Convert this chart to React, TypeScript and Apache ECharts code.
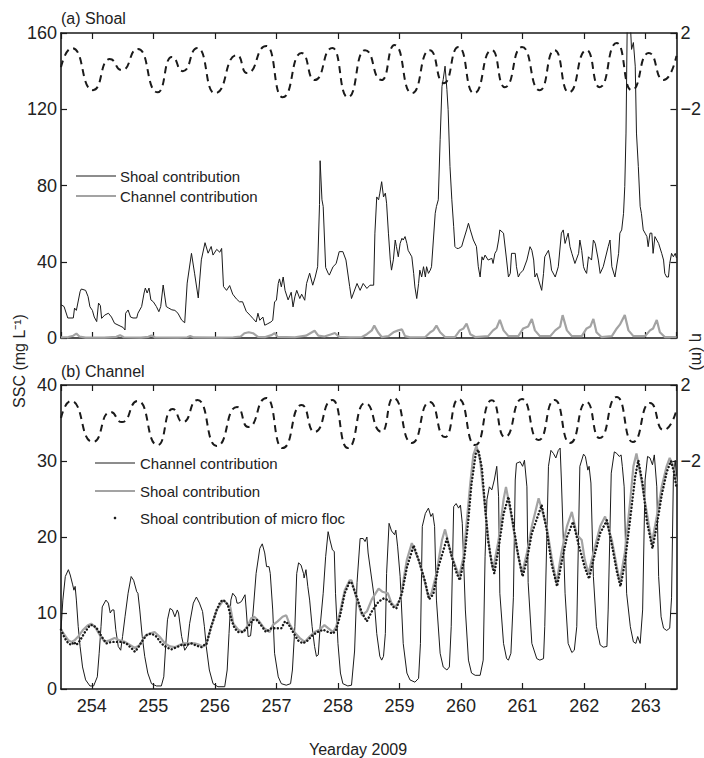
import React, { useEffect, useRef } from 'react';
import * as echarts from 'echarts';

// ---------- data (yearday, value) ----------
const topShoal: number[][] = [
  [253.5, 17], [253.51, 17.3], [253.55, 16.5], [253.61, 10.5], [253.7, 10.5], [253.72, 15.7], [253.75, 14.5],
  [253.81, 24.3], [253.83, 25.7], [253.9, 25], [253.94, 21.7], [253.97, 16.4], [254.01, 14.5], [254.04, 11],
  [254.08, 8.6], [254.11, 18.3], [254.14, 17], [254.16, 10.3], [254.21, 12], [254.27, 13], [254.32, 11],
  [254.37, 7.7], [254.46, 6.3], [254.51, 5.5], [254.54, 4.2], [254.55, 13], [254.59, 14.7], [254.63, 11],
  [254.67, 10.5], [254.73, 10.5], [254.75, 13], [254.81, 16.5], [254.85, 23.6], [254.87, 26.2], [254.9, 23.6],
  [254.93, 26.2], [254.96, 20], [255.0, 19], [255.05, 16.5], [255.09, 13.8], [255.12, 16.5], [255.16, 27.8],
  [255.19, 21], [255.21, 16.5], [255.25, 15.7], [255.3, 14.8], [255.35, 14.5], [255.4, 13], [255.46, 9.4],
  [255.51, 8.0], [255.55, 28.8], [255.62, 44.4], [255.67, 34], [255.73, 21], [255.78, 41], [255.84, 50],
  [255.89, 44.5], [255.94, 48], [255.97, 43.5], [256.03, 46.5], [256.08, 45], [256.11, 47], [256.14, 27],
  [256.19, 25], [256.24, 27.5], [256.29, 23], [256.35, 20.5], [256.4, 19], [256.45, 19], [256.51, 14],
  [256.57, 12], [256.62, 10.2], [256.67, 8.4], [256.7, 13], [256.73, 9.3], [256.78, 11], [256.81, 6.7],
  [256.86, 7.5], [256.91, 8.4], [256.94, 9.3], [256.97, 19], [257.0, 19.8], [257.03, 28.6], [257.05, 31],
  [257.08, 26.8], [257.11, 32], [257.14, 25], [257.19, 20], [257.24, 24], [257.27, 16.3], [257.3, 21.6],
  [257.33, 25], [257.38, 20.7], [257.41, 23], [257.46, 19.8], [257.49, 28.6], [257.54, 34], [257.59, 27.7],
  [257.63, 32], [257.67, 37.4], [257.7, 70], [257.71, 93], [257.74, 72.5], [257.76, 69], [257.8, 37],
  [257.84, 34], [257.86, 33], [257.92, 37.4], [257.97, 39], [258.02, 45.3], [258.08, 45.3], [258.13, 40.9],
  [258.19, 27], [258.22, 20.7], [258.31, 28.6], [258.36, 25], [258.41, 28.6], [258.47, 26], [258.52, 27.7],
  [258.58, 27.7], [258.6, 55], [258.63, 74], [258.66, 72.5], [258.68, 76], [258.71, 82], [258.74, 74],
  [258.77, 76], [258.79, 70.7], [258.82, 55], [258.85, 41], [258.87, 35.6], [258.9, 41], [258.93, 51.4],
  [258.95, 48], [258.98, 42.6], [259.01, 49.6], [259.04, 52.3], [259.06, 51.4], [259.09, 53.2], [259.12, 49.6],
  [259.14, 46], [259.2, 42.6], [259.23, 33.9], [259.25, 26.8], [259.28, 20.7], [259.31, 28.6], [259.33, 35.6],
  [259.36, 32], [259.39, 37.4], [259.42, 32], [259.44, 37.4], [259.47, 33.9], [259.5, 35.6], [259.52, 37.4],
  [259.55, 51.4], [259.58, 65.4], [259.6, 69], [259.63, 72.5], [259.66, 104], [259.69, 132], [259.71, 135.6],
  [259.74, 142.6], [259.77, 130.4], [259.79, 119.8], [259.82, 90], [259.85, 72.5], [259.88, 58.4], [259.9, 48],
  [259.93, 47], [259.96, 47], [260.01, 48], [260.04, 51.4], [260.09, 56.7], [260.12, 60.2], [260.15, 56.7],
  [260.2, 51.4], [260.25, 48], [260.28, 37.4], [260.31, 32], [260.34, 42.6], [260.36, 40.9], [260.39, 43.5],
  [260.44, 40.9], [260.5, 41.8], [260.52, 39.1], [260.55, 44.4], [260.58, 46], [260.61, 51.4], [260.63, 56.7],
  [260.69, 55], [260.74, 40.9], [260.77, 32], [260.8, 33.9], [260.82, 44.4], [260.88, 44.4], [260.9, 37.4],
  [260.93, 32], [260.96, 33.9], [261.01, 35.6], [261.07, 40.9], [261.12, 47.9], [261.15, 46], [261.18, 40.9],
  [261.2, 32], [261.23, 33.9], [261.26, 30.4], [261.31, 25], [261.34, 33.9], [261.36, 42.6], [261.42, 46],
  [261.45, 40.9], [261.47, 35.6], [261.53, 32], [261.58, 37.4], [261.63, 55], [261.66, 56.7], [261.69, 49.6],
  [261.74, 55], [261.77, 47.9], [261.8, 44.4], [261.85, 39.1], [261.91, 44.4], [261.93, 51.4], [261.96, 46],
  [261.99, 37.4], [262.01, 35.6], [262.04, 33.9], [262.07, 42.6], [262.12, 40.9], [262.15, 51.4], [262.18, 49.6],
  [262.23, 40.9], [262.26, 33.9], [262.31, 37.4], [262.39, 47.9], [262.42, 51.4], [262.45, 37.4], [262.5, 32],
  [262.56, 44.4], [262.58, 55], [262.61, 56.7], [262.64, 65.4], [262.66, 79.5], [262.68, 107.5], [262.7, 165],
  [262.72, 166], [262.75, 165], [262.77, 151.4], [262.8, 155], [262.83, 142.6], [262.85, 107.5], [262.88, 90],
  [262.91, 69], [262.93, 65.4], [262.96, 56.7], [262.99, 55], [263.02, 53.2], [263.04, 47.9], [263.07, 55],
  [263.1, 55], [263.12, 44.4], [263.15, 53.2], [263.18, 51.4], [263.21, 49.6], [263.26, 44.4], [263.29, 40.9],
  [263.31, 33.9], [263.34, 32], [263.37, 32], [263.39, 39.1], [263.42, 44.4], [263.45, 42.6], [263.48, 44.4],
  [263.5, 42],
];

const topChannel: number[][] = [
  [253.5, 0.3], [253.62, 0.5], [253.7, 1.2], [253.75, 2.3], [253.8, 0.8], [253.9, 0.2], [254.2, 0.2],
  [254.4, 0.6], [254.46, 1.5], [254.52, 0.4], [254.8, 0.2], [254.92, 0.6], [254.97, 1.3], [255.03, 0.3],
  [255.4, 0.2], [255.55, 0.4], [255.6, 1.0], [255.66, 0.3], [256.1, 0.2], [256.3, 0.4], [256.42, 0.8],
  [256.48, 2.5], [256.55, 3.0], [256.62, 2.5], [256.7, 0.6], [256.82, 0.5], [256.92, 1.5], [256.97, 2.6],
  [257.02, 0.6], [257.3, 0.4], [257.48, 1.2], [257.55, 2.5], [257.62, 3.8], [257.68, 1.2], [257.78, 0.8],
  [257.88, 1.8], [257.95, 2.6], [258.02, 0.6], [258.2, 0.3], [258.39, 0.5], [258.47, 2], [258.55, 4],
  [258.59, 6.5], [258.65, 3], [258.71, 0.5], [258.82, 1], [258.9, 3], [258.98, 4], [259.04, 4.5],
  [259.09, 1], [259.17, 0.3], [259.42, 0.5], [259.5, 3], [259.55, 4], [259.6, 6.5], [259.66, 3],
  [259.74, 0.5], [259.9, 0.5], [259.98, 4], [260.04, 5], [260.09, 7.5], [260.15, 2], [260.23, 0.5],
  [260.44, 1], [260.52, 4], [260.58, 5.5], [260.63, 9.5], [260.69, 4], [260.77, 1], [260.93, 1],
  [261.01, 5], [261.09, 6], [261.15, 10], [261.2, 4], [261.28, 1], [261.45, 1], [261.53, 4],
  [261.61, 6], [261.65, 12], [261.72, 4], [261.8, 1], [261.96, 1], [262.04, 5], [262.1, 6],
  [262.15, 10], [262.2, 3], [262.28, 0.5], [262.45, 1], [262.53, 5], [262.58, 7], [262.66, 12],
  [262.72, 4], [262.8, 1], [262.99, 1], [263.07, 4], [263.12, 5], [263.18, 9.5], [263.23, 3],
  [263.31, 0.5], [263.5, 0.5],
];

const topTide: number[][] = [
  [253.5, 0.21], [253.68, 1.21], [254.02, -1.0], [254.29, 0.63], [254.49, 0.05], [254.75, 1.16],
  [255.07, -1.11], [255.3, 0.74], [255.48, 0.0], [255.72, 1.21], [256.0, -1.16], [256.36, 0.84],
  [256.52, -0.1], [256.84, 1.32], [257.1, -1.37], [257.41, 0.95], [257.62, -0.47], [257.91, 1.21],
  [258.16, -1.37], [258.44, 1.1], [258.71, -0.47], [258.92, 1.37], [259.2, -1.16], [259.49, 1.1],
  [259.72, -0.63], [259.96, 1.26], [260.21, -1.16], [260.5, 1.1], [260.71, -0.84], [260.99, 1.26],
  [261.28, -1.0], [261.52, 1.1], [261.75, -1.11], [262.04, 1.1], [262.25, -0.84], [262.53, 1.47],
  [262.77, -1.0], [263.05, 0.95], [263.29, -0.47], [263.5, 0.8],
];

const botChannel: number[][] = [
  [253.5, 7.8], [253.53, 11.7], [253.57, 14.8], [253.62, 15.7], [253.65, 15], [253.69, 13.7], [253.71, 13],
  [253.73, 13.5], [253.75, 11.7], [253.78, 8.2], [253.81, 5.6], [253.85, 2.9], [253.9, 1.2], [253.97, 0.4],
  [254.03, 0.4], [254.09, 1.6], [254.12, 4.7], [254.15, 8.2], [254.17, 10.8], [254.23, 11.7], [254.27, 11.3],
  [254.3, 10], [254.33, 10.4], [254.36, 10.4], [254.39, 7.8], [254.43, 5.6], [254.47, 5.1], [254.5, 6.9],
  [254.54, 9.5], [254.59, 12.6], [254.64, 14.8], [254.68, 14.3], [254.73, 12.8], [254.75, 12.6], [254.78, 10.4],
  [254.82, 6.9], [254.86, 4.3], [254.91, 2.1], [254.97, 0.7], [255.05, 0.4], [255.13, 0.4], [255.17, 1.6],
  [255.2, 5.6], [255.23, 9.1], [255.27, 10.6], [255.31, 10.4], [255.35, 9.5], [255.39, 10.4], [255.41, 10],
  [255.46, 6.9], [255.51, 5.1], [255.55, 5.6], [255.59, 8.6], [255.65, 11.3], [255.7, 12.1], [255.75, 11.3],
  [255.8, 10.2], [255.83, 8.2], [255.86, 5.6], [255.91, 2.5], [255.97, 0.7], [256.05, 0.3], [256.16, 0.3],
  [256.2, 2.5], [256.23, 7.3], [256.26, 11.7], [256.29, 12.6], [256.34, 12.1], [256.36, 11.3], [256.39, 11.3],
  [256.43, 11.5], [256.49, 12.4], [256.51, 10.4], [256.54, 6.9], [256.58, 7.0], [256.62, 10], [256.67, 15.2],
  [256.73, 18.5], [256.77, 19.1], [256.81, 17.9], [256.84, 16.1], [256.88, 16.1], [256.9, 15.2], [256.94, 10.4],
  [256.97, 4.7], [257.03, 1.6], [257.08, 0.7], [257.16, 0.5], [257.23, 0.7], [257.26, 2.5], [257.3, 8.2],
  [257.33, 15.2], [257.36, 16.6], [257.4, 16.3], [257.44, 15.2], [257.45, 14.6], [257.48, 15.7], [257.51, 13.5],
  [257.54, 11.7], [257.58, 8.2], [257.62, 5.6], [257.65, 4.3], [257.68, 4.5], [257.71, 8.2], [257.76, 12.6],
  [257.8, 17.4], [257.84, 20.7], [257.87, 19.6], [257.91, 18.3], [257.94, 18.1], [257.96, 12.6], [258.0, 6],
  [258.04, 2.1], [258.08, 0.7], [258.16, 0.4], [258.22, 0.5], [258.27, 5], [258.31, 14], [258.36, 19.8],
  [258.41, 19.8], [258.44, 19.4], [258.47, 20], [258.49, 17.9], [258.58, 12.6], [258.63, 7.3], [258.68, 4.3],
  [258.71, 3.8], [258.74, 4.3], [258.77, 7.3], [258.79, 15.2], [258.83, 21.8], [258.87, 20.8], [258.92, 20.3],
  [258.94, 20.9], [258.97, 18.7], [259.01, 14.8], [259.06, 6], [259.12, 2.1], [259.17, 1.2], [259.25, 0.9],
  [259.31, 1.4], [259.34, 6], [259.37, 21.4], [259.42, 23.1], [259.47, 23.8], [259.51, 22.7], [259.54, 23.1],
  [259.57, 21.4], [259.6, 11.7], [259.66, 4.7], [259.71, 2.9], [259.77, 2.5], [259.81, 2.9], [259.84, 8.2],
  [259.88, 24], [259.92, 24.4], [259.96, 23.8], [259.99, 24.2], [260.02, 21.8], [260.07, 10.4], [260.12, 3.8],
  [260.17, 2.1], [260.23, 1.8], [260.31, 1.8], [260.36, 3.8], [260.39, 17.4], [260.42, 24.9], [260.46, 26.6],
  [260.5, 26.2], [260.54, 27.5], [260.58, 29.3], [260.61, 25.3], [260.63, 12.6], [260.69, 6], [260.74, 4],
  [260.77, 3.8], [260.81, 4.7], [260.85, 12], [260.88, 27.5], [260.9, 29.7], [260.96, 29.9], [261.0, 29.3],
  [261.03, 30.1], [261.07, 26.6], [261.09, 14], [261.15, 6], [261.23, 4], [261.28, 3.8], [261.34, 4],
  [261.36, 8.2], [261.42, 29.3], [261.46, 31.4], [261.5, 31], [261.54, 30.4], [261.58, 31.4], [261.61, 31.7],
  [261.63, 27.5], [261.69, 12.6], [261.74, 6], [261.8, 4.8], [261.84, 5.1], [261.88, 8.2], [261.93, 29.3],
  [261.99, 30.9], [262.02, 30.6], [262.06, 28.8], [262.08, 29.3], [262.11, 27.1], [262.15, 14.8], [262.2, 8.2],
  [262.26, 5.8], [262.31, 5.5], [262.37, 5.6], [262.39, 10.4], [262.44, 28.4], [262.49, 31.2], [262.53, 31],
  [262.57, 30.6], [262.6, 30.8], [262.62, 29.3], [262.65, 26.6], [262.69, 12.6], [262.75, 8.2], [262.8, 6.2],
  [262.84, 6], [262.87, 6.9], [262.91, 6], [262.95, 10.4], [262.99, 27.5], [263.03, 30.6], [263.07, 30.4],
  [263.11, 29.5], [263.14, 30.8], [263.18, 26.6], [263.21, 14.8], [263.25, 9.5], [263.29, 8], [263.34, 7.7],
  [263.39, 8], [263.42, 12], [263.45, 28], [263.48, 30.1], [263.5, 28],
];

const botShoal: number[][] = [
  [253.5, 7.8], [253.56, 7.1], [253.62, 6.4], [253.67, 6.2], [253.72, 6.4], [253.78, 6.9], [253.86, 7.8],
  [253.94, 8.4], [253.99, 8.6], [254.05, 8.2], [254.13, 7.1], [254.21, 6.2], [254.29, 6.4], [254.37, 6.7],
  [254.45, 6.4], [254.54, 6.2], [254.62, 5.8], [254.7, 5.4], [254.78, 5.8], [254.86, 6.9], [254.94, 7.3],
  [255.02, 7.5], [255.1, 6.9], [255.19, 6], [255.27, 5.6], [255.35, 5.5], [255.43, 5.8], [255.51, 6],
  [255.59, 6], [255.67, 6], [255.75, 5.8], [255.81, 5.6], [255.86, 5.9], [255.94, 8.2], [256.03, 10.4],
  [256.14, 11.7], [256.25, 10.8], [256.3, 8.6], [256.38, 7.8], [256.46, 7.5], [256.54, 8.4], [256.59, 9.3],
  [256.64, 9.5], [256.72, 8.9], [256.8, 8], [256.89, 7.5], [256.94, 8.4], [257.02, 8.9], [257.1, 9.5],
  [257.16, 9.7], [257.21, 8.6], [257.29, 7.5], [257.38, 6.7], [257.46, 6.2], [257.54, 6.9], [257.62, 7.5],
  [257.7, 7.8], [257.78, 8.4], [257.84, 8], [257.92, 7.5], [257.97, 8.2], [258.03, 10], [258.11, 13],
  [258.19, 14.3], [258.22, 14.3], [258.31, 11.7], [258.39, 9.7], [258.47, 10.2], [258.55, 11.8],
  [258.66, 13.2], [258.72, 12.8], [258.81, 12.6], [258.87, 11.3], [258.93, 10.8], [259.01, 11.7], [259.12, 17],
  [259.2, 19.2], [259.31, 17], [259.39, 14.8], [259.47, 12.1], [259.52, 12.6], [259.6, 15.2], [259.69, 19.6],
  [259.74, 21], [259.85, 17.4], [259.93, 15.7], [259.97, 14.8], [260.04, 17.4], [260.09, 21.8], [260.15, 27.1],
  [260.2, 30.8], [260.25, 32], [260.31, 30.1], [260.36, 26.2], [260.42, 21.4], [260.47, 17.9], [260.52, 15.7],
  [260.61, 19.6], [260.69, 24.9], [260.73, 26.6], [260.82, 22.7], [260.9, 18.7], [260.99, 15.2], [261.07, 17.9],
  [261.15, 21.4], [261.26, 25.1], [261.39, 21.4], [261.47, 17.4], [261.55, 13.9], [261.63, 17.9], [261.72, 21.4],
  [261.8, 23.3], [261.88, 20.3], [261.96, 19.6], [262.01, 17], [262.07, 15.2], [262.15, 17.9], [262.26, 21.4],
  [262.34, 22.7], [262.45, 19.6], [262.53, 16.1], [262.58, 14.1], [262.66, 17.9], [262.75, 24.9], [262.8, 29.3],
  [262.85, 31], [262.93, 27.5], [263.02, 23.1], [263.1, 19.2], [263.18, 22.7], [263.26, 26.6], [263.34, 29.3],
  [263.39, 30.4], [263.45, 29.3], [263.5, 27],
];

const botMicro: number[][] = [
  [253.5, 7.8], [253.56, 6.7], [253.62, 6], [253.67, 5.8], [253.71, 6.2], [253.75, 5.8], [253.81, 6.4],
  [253.89, 7.5], [253.97, 8.4], [254.02, 8.4], [254.08, 8], [254.16, 6.9], [254.24, 6], [254.32, 6.2],
  [254.4, 6.2], [254.48, 6.2], [254.56, 6], [254.64, 5.4], [254.7, 4.9], [254.75, 5.4], [254.81, 6.2],
  [254.89, 7.1], [254.97, 7.3], [255.05, 6.9], [255.13, 6], [255.21, 5.5], [255.29, 5.2], [255.38, 5.5],
  [255.46, 5.8], [255.54, 5.8], [255.62, 6], [255.7, 5.7], [255.78, 5.5], [255.83, 5.8], [255.86, 5.8],
  [255.94, 8.2], [256.03, 10.4], [256.09, 11.5], [256.14, 11.7], [256.21, 11.1], [256.27, 9.1], [256.32, 8],
  [256.38, 7.5], [256.46, 7.5], [256.54, 8.2], [256.62, 9.1], [256.68, 9.1], [256.75, 8.4], [256.83, 7.5],
  [256.92, 8], [257.0, 8], [257.08, 8], [257.14, 8.9], [257.19, 8.6], [257.27, 7.5], [257.35, 6.4],
  [257.43, 6], [257.51, 6.4], [257.59, 7.1], [257.67, 7.5], [257.76, 7.8], [257.84, 7.5], [257.92, 7.3],
  [257.97, 7.8], [258.03, 9.5], [258.11, 12.6], [258.19, 14.1], [258.22, 14], [258.31, 12], [258.39, 10],
  [258.47, 8.9], [258.55, 10.2], [258.66, 11.5], [258.74, 11.9], [258.82, 11.7], [258.9, 10.8], [258.95, 10.6],
  [259.04, 12.6], [259.12, 16], [259.23, 18.9], [259.33, 16.5], [259.42, 14], [259.48, 11.8], [259.55, 12.5],
  [259.63, 16], [259.77, 19.8], [259.85, 17.4], [259.93, 15.2], [259.98, 14.3], [260.05, 17], [260.11, 21.5],
  [260.17, 27], [260.24, 31], [260.28, 31.5], [260.34, 29], [260.39, 24], [260.44, 19.5], [260.5, 16.5],
  [260.54, 15.2], [260.61, 18.5], [260.69, 23], [260.77, 25.3], [260.85, 21.5], [260.93, 17.5], [261.0, 14.8],
  [261.07, 17], [261.15, 20.5], [261.31, 24.2], [261.39, 21], [261.47, 16.5], [261.56, 13.5], [261.63, 16.5],
  [261.72, 20], [261.82, 22], [261.91, 19], [262.01, 16], [262.08, 14.5], [262.15, 17], [262.26, 20.5],
  [262.37, 22.2], [262.45, 19], [262.53, 15.5], [262.59, 13.5], [262.66, 16.5], [262.75, 22.5], [262.83, 28],
  [262.88, 30.1], [262.95, 27], [263.02, 22], [263.11, 18.5], [263.18, 21.5], [263.26, 25.5], [263.34, 28.5],
  [263.41, 30], [263.46, 28.5], [263.5, 26.5],
];

const botTide: number[][] = [
  [253.5, 0.26], [253.66, 1.16], [254.02, -1.0], [254.3, 0.58], [254.49, 0.05], [254.75, 1.16],
  [255.07, -1.16], [255.31, 0.74], [255.48, 0.05], [255.72, 1.21], [256.03, -1.21], [256.36, 0.84],
  [256.54, -0.21], [256.84, 1.32], [257.1, -1.32], [257.41, 0.95], [257.62, -0.47], [257.91, 1.21],
  [258.16, -1.32], [258.44, 1.05], [258.71, -0.47], [258.9, 1.32], [259.2, -1.05], [259.49, 1.1],
  [259.74, -0.74], [259.96, 1.26], [260.23, -1.16], [260.5, 1.2], [260.71, -0.74], [260.99, 1.26],
  [261.26, -0.9], [261.52, 1.21], [261.77, -1.05], [262.04, 1.1], [262.25, -0.79], [262.53, 1.37],
  [262.79, -1.0], [263.07, 1.05], [263.29, -0.37], [263.5, 0.68],
];

const xRange = [253.5, 263.5];
const topSscRange = [0, 160, 40];
const botSscRange = [0, 40, 10];
const etaRange = [-14, 2, 2];
const etaLabels = [2, -2];

const FONT = '"Liberation Sans", Arial, Helvetica, sans-serif';
const INK = '#1a1a1a';
const GRAY = '#a3a3a3';

function xAxes(gridIndex: number, showLabels: boolean) {
  const common = {
    type: 'value',
    gridIndex,
    min: xRange[0],
    max: xRange[1],
    splitNumber: 10,
    minInterval: 1,
    maxInterval: 1,
    splitLine: { show: false },
    axisLine: { show: true, onZero: false, lineStyle: { color: INK, width: 1.6 } },
    axisTick: { show: true, inside: true, length: 6, lineStyle: { color: INK, width: 1.2 } },
  };
  return [
    {
      ...common,
      position: 'bottom',
      axisLabel: {
        show: showLabels, showMinLabel: false, showMaxLabel: false,
        fontFamily: FONT, fontSize: 18, color: '#222', margin: 8,
      },
    },
    { ...common, position: 'top', axisLabel: { show: false } },
  ];
}

function yAxes(gridIndex: number, r: number[]) {
  return [
    {
      type: 'value', gridIndex, position: 'left', min: r[0], max: r[1], interval: r[2],
      splitLine: { show: false },
      axisLine: { show: true, onZero: false, lineStyle: { color: INK, width: 1.6 } },
      axisTick: { show: true, inside: true, length: 6, lineStyle: { color: INK, width: 1.2 } },
      axisLabel: { fontFamily: FONT, fontSize: 18, color: '#222', margin: 4 },
    },
    {
      type: 'value', gridIndex, position: 'right', min: etaRange[0], max: etaRange[1], interval: etaRange[2],
      splitLine: { show: false },
      axisLine: { show: false },
      axisTick: { show: false },
      axisLabel: {
        fontFamily: FONT, fontSize: 18, color: '#222', margin: 4,
        formatter: (v: number) => (etaLabels.includes(v) ? (v < 0 ? '\u2212' + Math.abs(v) : String(v)) : ''),
      },
    },
    {
      type: 'value', gridIndex, position: 'right', min: r[0], max: r[1], interval: r[2],
      splitLine: { show: false },
      axisLine: { show: true, onZero: false, lineStyle: { color: INK, width: 1.6 } },
      axisTick: { show: true, inside: true, length: 6, lineStyle: { color: INK, width: 1.2 } },
      axisLabel: { show: false },
    },
  ];
}

function lineSeries(name: string, data: number[][], xi: number, yi: number, style: any, extra: any = {}) {
  return {
    name, type: 'line', data, xAxisIndex: xi, yAxisIndex: yi,
    showSymbol: false, symbol: 'none', silent: true, clip: true,
    lineStyle: style, ...extra,
  };
}

export default function App() {
  const ref = useRef<HTMLDivElement>(null);
  useEffect(() => {
    document.body.style.margin = '0';
    if (!ref.current) return;
    const chart = echarts.init(ref.current, undefined, { renderer: 'svg' });
    const tideStyle = { color: INK, width: 2, type: [7, 5] };
    const txt = (x: number, y: number, text: string, size = 15, extra: any = {}) => ({
      type: 'text', x, y, silent: true,
      style: { text, font: `${size}px ${FONT}`, fill: '#222', textVerticalAlign: 'middle', ...extra },
    });
    const seg = (x1: number, y1: number, x2: number, y2: number, stroke: string, lineWidth: number) => ({
      type: 'line', silent: true, shape: { x1, y1, x2, y2 }, style: { stroke, lineWidth },
    });
    chart.setOption({
      animation: false,
      backgroundColor: '#ffffff',
      grid: [
        { left: 61, top: 33, width: 616, height: 305 },
        { left: 61, top: 385, width: 616, height: 304 },
      ],
      xAxis: [...xAxes(0, false), ...xAxes(1, true)],
      yAxis: [...yAxes(0, topSscRange), ...yAxes(1, botSscRange)],
      series: [
        lineSeries('Tide (a)', topTide, 0, 1, tideStyle, { smooth: 0.6, smoothMonotone: 'x' }),
        lineSeries('Channel contribution (a)', topChannel, 0, 0, { color: GRAY, width: 2.2 }),
        lineSeries('Shoal contribution (a)', topShoal, 0, 0, { color: INK, width: 1 }),
        lineSeries('Tide (b)', botTide, 2, 4, tideStyle, { smooth: 0.6, smoothMonotone: 'x' }),
        lineSeries('Channel contribution (b)', botChannel, 2, 3, { color: INK, width: 1 }),
        lineSeries('Shoal contribution (b)', botShoal, 2, 3, { color: GRAY, width: 2.2 }),
        lineSeries('Shoal contribution of micro floc', botMicro, 2, 3,
          { color: INK, width: 2.4, type: [0.1, 3.4], cap: 'round' }),
      ],
      graphic: [
        txt(61, 18, '(a) Shoal', 16),
        txt(61, 371, '(b) Channel', 16),
        seg(76, 176, 116, 176, INK, 1),
        txt(120, 176, 'Shoal contribution'),
        seg(76, 196, 116, 196, GRAY, 2.2),
        txt(120, 196, 'Channel contribution'),
        seg(95, 463, 135, 463, INK, 1),
        txt(140, 463, 'Channel contribution'),
        seg(95, 491, 135, 491, GRAY, 2.2),
        txt(140, 491, 'Shoal contribution'),
        { type: 'circle', silent: true, shape: { cx: 115, cy: 518, r: 1.3 }, style: { fill: INK } },
        txt(140, 518, 'Shoal contribution of micro floc'),
        {
          type: 'text', x: 19, y: 361, rotation: Math.PI / 2, silent: true,
          style: { text: 'SSC (mg L\u207B\u00B9)', font: `16px ${FONT}`, fill: '#222', textAlign: 'center', textVerticalAlign: 'middle' },
        },
        {
          type: 'text', x: 697, y: 352, rotation: -Math.PI / 2, silent: true,
          style: { text: '\u03B7 (m)', font: `16px ${FONT}`, fill: '#222', textAlign: 'center', textVerticalAlign: 'middle' },
        },
        {
          type: 'text', x: 358, y: 749, silent: true,
          style: { text: 'Yearday 2009', font: `16px ${FONT}`, fill: '#222', textAlign: 'center', textVerticalAlign: 'middle' },
        },
      ],
    });
    return () => chart.dispose();
  }, []);
  return <div ref={ref} style={{ width: 704, height: 758 }} />;
}
